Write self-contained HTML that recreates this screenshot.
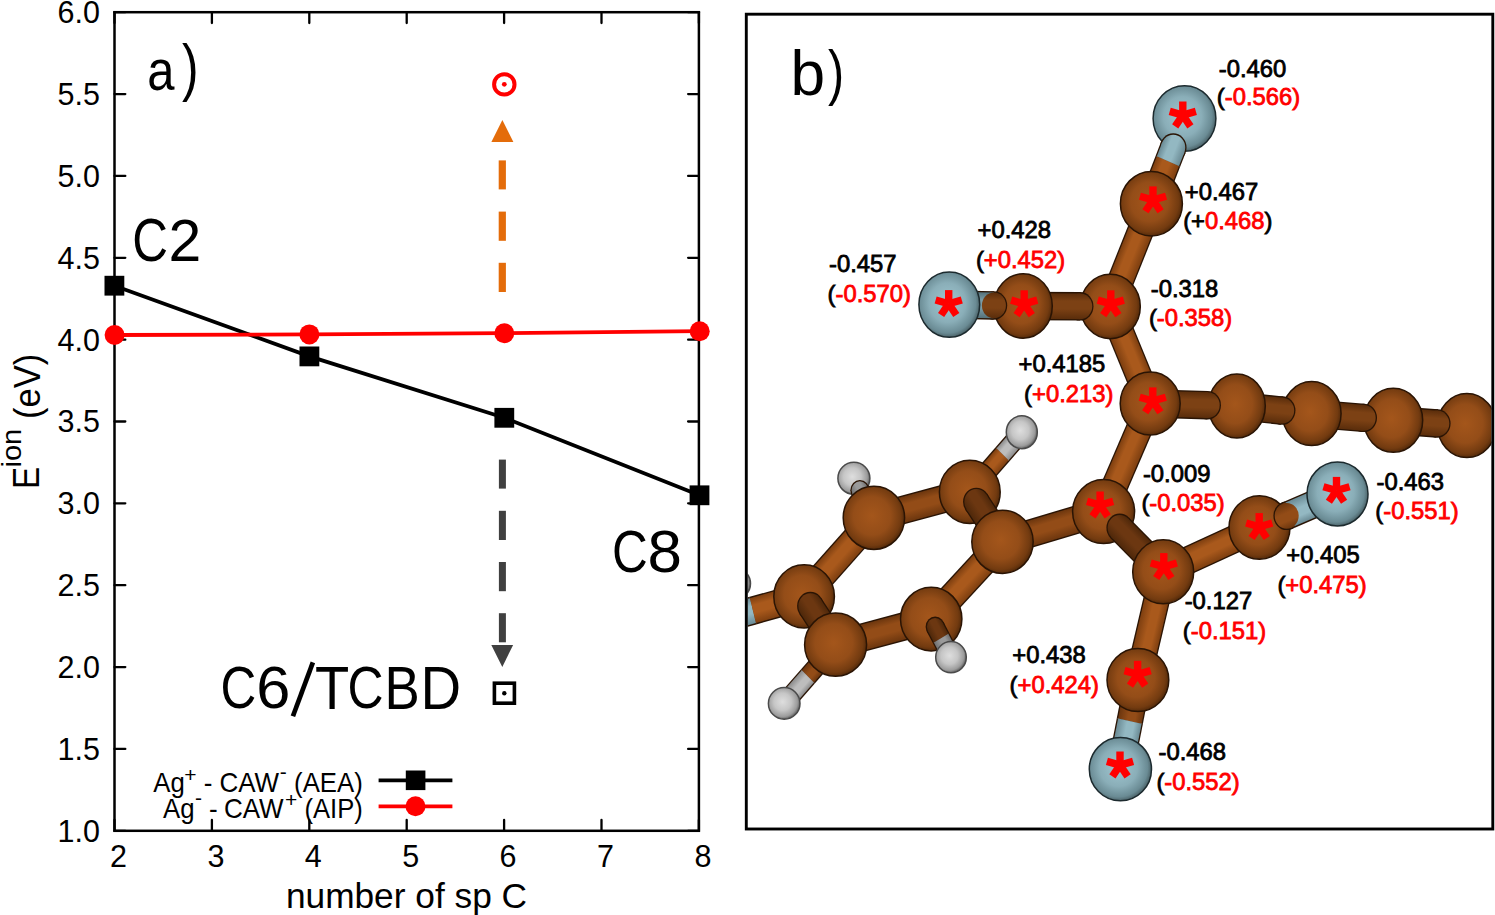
<!DOCTYPE html>
<html><head><meta charset="utf-8"><style>
html,body{margin:0;padding:0;background:#fff;width:1495px;height:915px;overflow:hidden}
svg{display:block}
text{font-family:"Liberation Sans",sans-serif}
</style></head><body>
<svg width="1495" height="915" viewBox="0 0 1495 915" font-family="Liberation Sans, sans-serif">
<defs>
<radialGradient id="gC" cx="0.47" cy="0.47" r="0.55"><stop offset="0" stop-color="#a4561b"/><stop offset="0.55" stop-color="#944d18"/><stop offset="0.85" stop-color="#733b10"/><stop offset="1" stop-color="#4c2608"/></radialGradient>
<radialGradient id="gN" cx="0.47" cy="0.47" r="0.55"><stop offset="0" stop-color="#a0c6d0"/><stop offset="0.55" stop-color="#8aaeb8"/><stop offset="0.85" stop-color="#6a8b94"/><stop offset="1" stop-color="#44595e"/></radialGradient>
<radialGradient id="gH" cx="0.45" cy="0.45" r="0.55"><stop offset="0" stop-color="#dedede"/><stop offset="0.5" stop-color="#c6c6c6"/><stop offset="0.85" stop-color="#9c9c9c"/><stop offset="1" stop-color="#666"/></radialGradient>
<linearGradient id="bg1" gradientUnits="userSpaceOnUse" x1="729.48" y1="564.37" x2="735.51" y2="587.60"><stop offset="0" stop-color="#6a8a94"/><stop offset="0.3" stop-color="#93b8c2"/><stop offset="0.6" stop-color="#93b8c2"/><stop offset="1" stop-color="#6a8a94"/></linearGradient><linearGradient id="bg2" gradientUnits="userSpaceOnUse" x1="775.53" y1="552.41" x2="781.56" y2="575.64"><stop offset="0" stop-color="#7e3f10"/><stop offset="0.3" stop-color="#a9591c"/><stop offset="0.6" stop-color="#a9591c"/><stop offset="1" stop-color="#7e3f10"/></linearGradient><linearGradient id="bg3" gradientUnits="userSpaceOnUse" x1="830.30" y1="512.39" x2="847.70" y2="528.92"><stop offset="0" stop-color="#7e3f10"/><stop offset="0.3" stop-color="#a9591c"/><stop offset="0.6" stop-color="#a9591c"/><stop offset="1" stop-color="#7e3f10"/></linearGradient><linearGradient id="bg4" gradientUnits="userSpaceOnUse" x1="918.91" y1="460.19" x2="924.79" y2="483.46"><stop offset="0" stop-color="#6c360e"/><stop offset="0.3" stop-color="#934c17"/><stop offset="0.6" stop-color="#934c17"/><stop offset="1" stop-color="#6c360e"/></linearGradient><linearGradient id="bg5" gradientUnits="userSpaceOnUse" x1="880.49" y1="578.92" x2="886.31" y2="602.20"><stop offset="0" stop-color="#6c360e"/><stop offset="0.3" stop-color="#934c17"/><stop offset="0.6" stop-color="#934c17"/><stop offset="1" stop-color="#6c360e"/></linearGradient><linearGradient id="bg6" gradientUnits="userSpaceOnUse" x1="958.31" y1="534.05" x2="975.39" y2="550.91"><stop offset="0" stop-color="#7e3f10"/><stop offset="0.3" stop-color="#a9591c"/><stop offset="0.6" stop-color="#a9591c"/><stop offset="1" stop-color="#7e3f10"/></linearGradient><linearGradient id="bg7" gradientUnits="userSpaceOnUse" x1="980.14" y1="436.52" x2="992.22" y2="447.77"><stop offset="0" stop-color="#7e3f10"/><stop offset="0.3" stop-color="#a9591c"/><stop offset="0.6" stop-color="#a9591c"/><stop offset="1" stop-color="#7e3f10"/></linearGradient><linearGradient id="bg8" gradientUnits="userSpaceOnUse" x1="1006.14" y1="408.62" x2="1018.22" y2="419.87"><stop offset="0" stop-color="#8c8c8c"/><stop offset="0.3" stop-color="#bdbdbd"/><stop offset="0.6" stop-color="#bdbdbd"/><stop offset="1" stop-color="#8c8c8c"/></linearGradient><linearGradient id="bg9" gradientUnits="userSpaceOnUse" x1="827.74" y1="622.98" x2="815.70" y2="611.69"><stop offset="0" stop-color="#6c360e"/><stop offset="0.3" stop-color="#934c17"/><stop offset="0.6" stop-color="#934c17"/><stop offset="1" stop-color="#6c360e"/></linearGradient><linearGradient id="bg10" gradientUnits="userSpaceOnUse" x1="802.04" y1="650.41" x2="790.00" y2="639.12"><stop offset="0" stop-color="#8c8c8c"/><stop offset="0.3" stop-color="#bdbdbd"/><stop offset="0.6" stop-color="#bdbdbd"/><stop offset="1" stop-color="#8c8c8c"/></linearGradient><linearGradient id="bg11" gradientUnits="userSpaceOnUse" x1="1049.82" y1="480.68" x2="1056.28" y2="503.80"><stop offset="0" stop-color="#6c360e"/><stop offset="0.3" stop-color="#934c17"/><stop offset="0.6" stop-color="#934c17"/><stop offset="1" stop-color="#6c360e"/></linearGradient><linearGradient id="bg12" gradientUnits="userSpaceOnUse" x1="1116.00" y1="422.59" x2="1137.80" y2="432.64"><stop offset="0" stop-color="#7e3f10"/><stop offset="0.3" stop-color="#a9591c"/><stop offset="0.6" stop-color="#a9591c"/><stop offset="1" stop-color="#7e3f10"/></linearGradient><linearGradient id="bg13" gradientUnits="userSpaceOnUse" x1="1141.23" y1="326.94" x2="1119.27" y2="336.61"><stop offset="0" stop-color="#7e3f10"/><stop offset="0.3" stop-color="#a9591c"/><stop offset="0.6" stop-color="#a9591c"/><stop offset="1" stop-color="#7e3f10"/></linearGradient><linearGradient id="bg14" gradientUnits="userSpaceOnUse" x1="1119.82" y1="233.69" x2="1141.88" y2="243.13"><stop offset="0" stop-color="#7e3f10"/><stop offset="0.3" stop-color="#a9591c"/><stop offset="0.6" stop-color="#a9591c"/><stop offset="1" stop-color="#7e3f10"/></linearGradient><linearGradient id="bg15" gradientUnits="userSpaceOnUse" x1="1206.61" y1="502.67" x2="1216.09" y2="524.72"><stop offset="0" stop-color="#7e3f10"/><stop offset="0.3" stop-color="#a9591c"/><stop offset="0.6" stop-color="#a9591c"/><stop offset="1" stop-color="#7e3f10"/></linearGradient><linearGradient id="bg16" gradientUnits="userSpaceOnUse" x1="1162.19" y1="587.87" x2="1138.91" y2="582.04"><stop offset="0" stop-color="#7e3f10"/><stop offset="0.3" stop-color="#a9591c"/><stop offset="0.6" stop-color="#a9591c"/><stop offset="1" stop-color="#7e3f10"/></linearGradient><linearGradient id="bg17" gradientUnits="userSpaceOnUse" x1="869.15" y1="457.85" x2="854.65" y2="465.71"><stop offset="0" stop-color="#707070"/><stop offset="0.3" stop-color="#9a9a9a"/><stop offset="0.6" stop-color="#9a9a9a"/><stop offset="1" stop-color="#707070"/></linearGradient><linearGradient id="bg18" gradientUnits="userSpaceOnUse" x1="876.15" y1="470.77" x2="861.65" y2="478.63"><stop offset="0" stop-color="#5a2d0b"/><stop offset="0.3" stop-color="#7c4114"/><stop offset="0.6" stop-color="#7c4114"/><stop offset="1" stop-color="#5a2d0b"/></linearGradient><linearGradient id="bg19" gradientUnits="userSpaceOnUse" x1="832.84" y1="577.60" x2="813.16" y2="591.33"><stop offset="0" stop-color="#4f280a"/><stop offset="0.3" stop-color="#6c3711"/><stop offset="0.6" stop-color="#6c3711"/><stop offset="1" stop-color="#4f280a"/></linearGradient><linearGradient id="bg20" gradientUnits="userSpaceOnUse" x1="945.34" y1="587.05" x2="930.92" y2="595.07"><stop offset="0" stop-color="#4f280a"/><stop offset="0.3" stop-color="#6c3711"/><stop offset="0.6" stop-color="#6c3711"/><stop offset="1" stop-color="#4f280a"/></linearGradient><linearGradient id="bg21" gradientUnits="userSpaceOnUse" x1="953.26" y1="601.29" x2="938.84" y2="609.31"><stop offset="0" stop-color="#707070"/><stop offset="0.3" stop-color="#9a9a9a"/><stop offset="0.6" stop-color="#9a9a9a"/><stop offset="1" stop-color="#707070"/></linearGradient><linearGradient id="bg22" gradientUnits="userSpaceOnUse" x1="999.25" y1="480.81" x2="979.59" y2="494.59"><stop offset="0" stop-color="#4f280a"/><stop offset="0.3" stop-color="#6c3711"/><stop offset="0.6" stop-color="#6c3711"/><stop offset="1" stop-color="#4f280a"/></linearGradient><linearGradient id="bg23" gradientUnits="userSpaceOnUse" x1="1148.59" y1="165.86" x2="1170.76" y2="175.07"><stop offset="0" stop-color="#7e3f10"/><stop offset="0.3" stop-color="#a9591c"/><stop offset="0.6" stop-color="#a9591c"/><stop offset="1" stop-color="#7e3f10"/></linearGradient><linearGradient id="bg24" gradientUnits="userSpaceOnUse" x1="1159.51" y1="139.59" x2="1181.67" y2="148.81"><stop offset="0" stop-color="#6a8a94"/><stop offset="0.3" stop-color="#93b8c2"/><stop offset="0.6" stop-color="#93b8c2"/><stop offset="1" stop-color="#6a8a94"/></linearGradient><linearGradient id="bg25" gradientUnits="userSpaceOnUse" x1="1051.71" y1="274.13" x2="1051.59" y2="298.13"><stop offset="0" stop-color="#5a2d0b"/><stop offset="0.3" stop-color="#7c4114"/><stop offset="0.6" stop-color="#7c4114"/><stop offset="1" stop-color="#5a2d0b"/></linearGradient><linearGradient id="bg26" gradientUnits="userSpaceOnUse" x1="971.65" y1="273.07" x2="971.23" y2="297.06"><stop offset="0" stop-color="#56727a"/><stop offset="0.3" stop-color="#7a9ca6"/><stop offset="0.6" stop-color="#7a9ca6"/><stop offset="1" stop-color="#56727a"/></linearGradient><linearGradient id="bg27" gradientUnits="userSpaceOnUse" x1="993.96" y1="273.46" x2="993.53" y2="297.46"><stop offset="0" stop-color="#5a2d0b"/><stop offset="0.3" stop-color="#7c4114"/><stop offset="0.6" stop-color="#7c4114"/><stop offset="1" stop-color="#5a2d0b"/></linearGradient><linearGradient id="bg28" gradientUnits="userSpaceOnUse" x1="1416.09" y1="382.31" x2="1414.48" y2="406.26"><stop offset="0" stop-color="#5a2d0b"/><stop offset="0.3" stop-color="#7c4114"/><stop offset="0.6" stop-color="#7c4114"/><stop offset="1" stop-color="#5a2d0b"/></linearGradient><linearGradient id="bg29" gradientUnits="userSpaceOnUse" x1="1338.62" y1="376.57" x2="1336.78" y2="400.50"><stop offset="0" stop-color="#5a2d0b"/><stop offset="0.3" stop-color="#7c4114"/><stop offset="0.6" stop-color="#7c4114"/><stop offset="1" stop-color="#5a2d0b"/></linearGradient><linearGradient id="bg30" gradientUnits="userSpaceOnUse" x1="1260.66" y1="369.64" x2="1258.39" y2="393.53"><stop offset="0" stop-color="#5a2d0b"/><stop offset="0.3" stop-color="#7c4114"/><stop offset="0.6" stop-color="#7c4114"/><stop offset="1" stop-color="#5a2d0b"/></linearGradient><linearGradient id="bg31" gradientUnits="userSpaceOnUse" x1="1179.25" y1="365.88" x2="1178.61" y2="389.87"><stop offset="0" stop-color="#5a2d0b"/><stop offset="0.3" stop-color="#7c4114"/><stop offset="0.6" stop-color="#7c4114"/><stop offset="1" stop-color="#5a2d0b"/></linearGradient><linearGradient id="bg32" gradientUnits="userSpaceOnUse" x1="1149.68" y1="505.13" x2="1133.21" y2="522.58"><stop offset="0" stop-color="#4f280a"/><stop offset="0.3" stop-color="#6c3711"/><stop offset="0.6" stop-color="#6c3711"/><stop offset="1" stop-color="#4f280a"/></linearGradient><linearGradient id="bg33" gradientUnits="userSpaceOnUse" x1="1318.18" y1="482.37" x2="1309.24" y2="460.09"><stop offset="0" stop-color="#6a8a94"/><stop offset="0.3" stop-color="#93b8c2"/><stop offset="0.6" stop-color="#93b8c2"/><stop offset="1" stop-color="#6a8a94"/></linearGradient><linearGradient id="bg34" gradientUnits="userSpaceOnUse" x1="1292.78" y1="492.56" x2="1283.84" y2="470.29"><stop offset="0" stop-color="#6c360e"/><stop offset="0.3" stop-color="#934c17"/><stop offset="0.6" stop-color="#934c17"/><stop offset="1" stop-color="#6c360e"/></linearGradient><linearGradient id="bg35" gradientUnits="userSpaceOnUse" x1="1145.62" y1="657.15" x2="1122.13" y2="652.22"><stop offset="0" stop-color="#6c360e"/><stop offset="0.3" stop-color="#934c17"/><stop offset="0.6" stop-color="#934c17"/><stop offset="1" stop-color="#6c360e"/></linearGradient><linearGradient id="bg36" gradientUnits="userSpaceOnUse" x1="1136.87" y1="698.84" x2="1113.38" y2="693.90"><stop offset="0" stop-color="#6a8a94"/><stop offset="0.3" stop-color="#93b8c2"/><stop offset="0.6" stop-color="#93b8c2"/><stop offset="1" stop-color="#6a8a94"/></linearGradient><clipPath id="box"><rect x="747.7" y="15.6" width="743.7" height="812"/></clipPath>
</defs>
<rect width="1495" height="915" fill="#fff"/>
<g><rect x="114.5" y="12.2" width="584.4" height="818.5999999999999" fill="none" stroke="#000" stroke-width="2.5"/><line x1="114.5" y1="830.80" x2="125.3" y2="830.80" stroke="#000" stroke-width="2.3" stroke-linecap="round"/><line x1="688.1" y1="830.80" x2="698.9" y2="830.80" stroke="#000" stroke-width="2.3" stroke-linecap="round"/><text x="100" y="841.70" text-anchor="end" font-size="30.5">1.0</text><line x1="114.5" y1="748.94" x2="125.3" y2="748.94" stroke="#000" stroke-width="2.3" stroke-linecap="round"/><line x1="688.1" y1="748.94" x2="698.9" y2="748.94" stroke="#000" stroke-width="2.3" stroke-linecap="round"/><text x="100" y="759.84" text-anchor="end" font-size="30.5">1.5</text><line x1="114.5" y1="667.08" x2="125.3" y2="667.08" stroke="#000" stroke-width="2.3" stroke-linecap="round"/><line x1="688.1" y1="667.08" x2="698.9" y2="667.08" stroke="#000" stroke-width="2.3" stroke-linecap="round"/><text x="100" y="677.98" text-anchor="end" font-size="30.5">2.0</text><line x1="114.5" y1="585.22" x2="125.3" y2="585.22" stroke="#000" stroke-width="2.3" stroke-linecap="round"/><line x1="688.1" y1="585.22" x2="698.9" y2="585.22" stroke="#000" stroke-width="2.3" stroke-linecap="round"/><text x="100" y="596.12" text-anchor="end" font-size="30.5">2.5</text><line x1="114.5" y1="503.36" x2="125.3" y2="503.36" stroke="#000" stroke-width="2.3" stroke-linecap="round"/><line x1="688.1" y1="503.36" x2="698.9" y2="503.36" stroke="#000" stroke-width="2.3" stroke-linecap="round"/><text x="100" y="514.26" text-anchor="end" font-size="30.5">3.0</text><line x1="114.5" y1="421.50" x2="125.3" y2="421.50" stroke="#000" stroke-width="2.3" stroke-linecap="round"/><line x1="688.1" y1="421.50" x2="698.9" y2="421.50" stroke="#000" stroke-width="2.3" stroke-linecap="round"/><text x="100" y="432.40" text-anchor="end" font-size="30.5">3.5</text><line x1="114.5" y1="339.64" x2="125.3" y2="339.64" stroke="#000" stroke-width="2.3" stroke-linecap="round"/><line x1="688.1" y1="339.64" x2="698.9" y2="339.64" stroke="#000" stroke-width="2.3" stroke-linecap="round"/><text x="100" y="350.54" text-anchor="end" font-size="30.5">4.0</text><line x1="114.5" y1="257.78" x2="125.3" y2="257.78" stroke="#000" stroke-width="2.3" stroke-linecap="round"/><line x1="688.1" y1="257.78" x2="698.9" y2="257.78" stroke="#000" stroke-width="2.3" stroke-linecap="round"/><text x="100" y="268.68" text-anchor="end" font-size="30.5">4.5</text><line x1="114.5" y1="175.92" x2="125.3" y2="175.92" stroke="#000" stroke-width="2.3" stroke-linecap="round"/><line x1="688.1" y1="175.92" x2="698.9" y2="175.92" stroke="#000" stroke-width="2.3" stroke-linecap="round"/><text x="100" y="186.82" text-anchor="end" font-size="30.5">5.0</text><line x1="114.5" y1="94.06" x2="125.3" y2="94.06" stroke="#000" stroke-width="2.3" stroke-linecap="round"/><line x1="688.1" y1="94.06" x2="698.9" y2="94.06" stroke="#000" stroke-width="2.3" stroke-linecap="round"/><text x="100" y="104.96" text-anchor="end" font-size="30.5">5.5</text><line x1="114.5" y1="12.20" x2="125.3" y2="12.20" stroke="#000" stroke-width="2.3" stroke-linecap="round"/><line x1="688.1" y1="12.20" x2="698.9" y2="12.20" stroke="#000" stroke-width="2.3" stroke-linecap="round"/><text x="100" y="23.10" text-anchor="end" font-size="30.5">6.0</text><line x1="114.50" y1="830.8" x2="114.50" y2="820.0" stroke="#000" stroke-width="2.3" stroke-linecap="round"/><line x1="114.50" y1="12.2" x2="114.50" y2="23.0" stroke="#000" stroke-width="2.3" stroke-linecap="round"/><text x="118.50" y="867.4" text-anchor="middle" font-size="30.5">2</text><line x1="211.90" y1="830.8" x2="211.90" y2="820.0" stroke="#000" stroke-width="2.3" stroke-linecap="round"/><line x1="211.90" y1="12.2" x2="211.90" y2="23.0" stroke="#000" stroke-width="2.3" stroke-linecap="round"/><text x="215.90" y="867.4" text-anchor="middle" font-size="30.5">3</text><line x1="309.30" y1="830.8" x2="309.30" y2="820.0" stroke="#000" stroke-width="2.3" stroke-linecap="round"/><line x1="309.30" y1="12.2" x2="309.30" y2="23.0" stroke="#000" stroke-width="2.3" stroke-linecap="round"/><text x="313.30" y="867.4" text-anchor="middle" font-size="30.5">4</text><line x1="406.70" y1="830.8" x2="406.70" y2="820.0" stroke="#000" stroke-width="2.3" stroke-linecap="round"/><line x1="406.70" y1="12.2" x2="406.70" y2="23.0" stroke="#000" stroke-width="2.3" stroke-linecap="round"/><text x="410.70" y="867.4" text-anchor="middle" font-size="30.5">5</text><line x1="504.10" y1="830.8" x2="504.10" y2="820.0" stroke="#000" stroke-width="2.3" stroke-linecap="round"/><line x1="504.10" y1="12.2" x2="504.10" y2="23.0" stroke="#000" stroke-width="2.3" stroke-linecap="round"/><text x="508.10" y="867.4" text-anchor="middle" font-size="30.5">6</text><line x1="601.50" y1="830.8" x2="601.50" y2="820.0" stroke="#000" stroke-width="2.3" stroke-linecap="round"/><line x1="601.50" y1="12.2" x2="601.50" y2="23.0" stroke="#000" stroke-width="2.3" stroke-linecap="round"/><text x="605.50" y="867.4" text-anchor="middle" font-size="30.5">7</text><line x1="698.90" y1="830.8" x2="698.90" y2="820.0" stroke="#000" stroke-width="2.3" stroke-linecap="round"/><line x1="698.90" y1="12.2" x2="698.90" y2="23.0" stroke="#000" stroke-width="2.3" stroke-linecap="round"/><text x="702.90" y="867.4" text-anchor="middle" font-size="30.5">8</text><polyline points="114.4,285.7 309.4,356.4 504.3,417.8 699.5,495.3" fill="none" stroke="#000" stroke-width="3.8"/><polyline points="114.6,335.0 309.4,334.4 504.3,333.2 699.7,331.2" fill="none" stroke="#f00" stroke-width="3.8"/><circle cx="114.6" cy="335.0" r="10" fill="#f00"/><circle cx="309.4" cy="334.4" r="10" fill="#f00"/><circle cx="504.3" cy="333.2" r="10" fill="#f00"/><circle cx="699.7" cy="331.2" r="10" fill="#f00"/><rect x="104.5" y="275.8" width="19.8" height="19.8" fill="#000"/><rect x="299.5" y="346.5" width="19.8" height="19.8" fill="#000"/><rect x="494.40000000000003" y="407.90000000000003" width="19.8" height="19.8" fill="#000"/><rect x="689.6" y="485.40000000000003" width="19.8" height="19.8" fill="#000"/><rect x="498.7" y="160.4" width="7.2" height="29.0" fill="#e46c0a"/><rect x="498.7" y="211.6" width="7.2" height="29.200000000000017" fill="#e46c0a"/><rect x="498.7" y="262.8" width="7.2" height="29.19999999999999" fill="#e46c0a"/><polygon points="502.4,120 491.4,141.9 513.4,141.9" fill="#e46c0a"/><circle cx="504.3" cy="84.4" r="10.2" fill="none" stroke="#f00" stroke-width="4"/><circle cx="504.3" cy="84.3" r="2.4" fill="#f00"/><rect x="498.9" y="459.6" width="7" height="29.0" fill="#404040"/><rect x="498.9" y="510.8" width="7" height="29.19999999999999" fill="#404040"/><rect x="498.9" y="562.0" width="7" height="29.200000000000045" fill="#404040"/><rect x="498.9" y="613.2" width="7" height="29.09999999999991" fill="#404040"/><polygon points="491.3,645 513.1,645 502.3,666.9" fill="#404040"/><rect x="494.4" y="683.2" width="20" height="20" fill="none" stroke="#000" stroke-width="3.6"/><circle cx="504.3" cy="693.3" r="2.2" fill="#000"/><text transform="translate(147.30,89.90) scale(0.860,1)" font-size="57" >a</text><text transform="translate(182.00,88.60) scale(0.800,1)" font-size="62.3" >)</text><text transform="translate(132.37,260.80) scale(0.821,1)" font-size="60.28" >C</text><text transform="translate(168.45,261.00) scale(0.982,1)" font-size="60.0" >2</text><text transform="translate(612.02,572.20) scale(0.832,1)" font-size="59.57" >C</text><text transform="translate(647.42,572.20) scale(1.039,1)" font-size="59.57" >8</text><text transform="translate(220.42,708.30) scale(0.830,1)" font-size="59.71" >C</text><text transform="translate(256.24,708.30) scale(1.027,1)" font-size="59.71" >6</text><line x1="292.9" y1="716.2" x2="312.9" y2="662.4" stroke="#000" stroke-width="4.7"/><text transform="translate(314.89,708.90) scale(0.921,1)" font-size="60.87" >T</text><text transform="translate(347.41,708.30) scale(0.836,1)" font-size="59.71" >C</text><text transform="translate(384.40,708.90) scale(0.868,1)" font-size="60.87" >B</text><text transform="translate(420.41,708.90) scale(0.924,1)" font-size="60.87" >D</text><text transform="translate(285.90,907.90) scale(0.994,1)" font-size="35.5" >number of sp C</text><text transform="translate(38.90,489.10) rotate(-90) scale(0.891,1)" font-size="37.4">E</text><text transform="translate(21.30,467.50) rotate(-90) scale(1.055,1)" font-size="27.5">ion</text><text transform="translate(39.60,419.00) rotate(-90) scale(0.952,1)" font-size="36.3">(eV)</text><text transform="translate(153.30,792.00) scale(0.920,1)" font-size="28" >Ag</text><text transform="translate(184.30,781.60) scale(1.000,1)" font-size="21" >+</text><text transform="translate(203.80,792.00) scale(0.930,1)" font-size="28" >-</text><text transform="translate(219.40,792.00) scale(0.928,1)" font-size="28" >CAW</text><text transform="translate(279.70,778.70) scale(1.000,1)" font-size="21" >-</text><text transform="translate(294.10,792.00) scale(0.920,1)" font-size="28" >(AEA)</text><text transform="translate(163.10,817.60) scale(0.920,1)" font-size="28" >Ag</text><text transform="translate(195.10,804.60) scale(1.000,1)" font-size="21" >-</text><text transform="translate(208.90,818.00) scale(0.930,1)" font-size="28" >-</text><text transform="translate(223.90,817.60) scale(0.930,1)" font-size="28" >CAW</text><text transform="translate(284.90,807.30) scale(1.000,1)" font-size="21" >+</text><text transform="translate(304.50,817.60) scale(0.914,1)" font-size="28" >(AIP)</text><line x1="378.6" y1="780.3" x2="452.4" y2="780.3" stroke="#000" stroke-width="3.8"/><rect x="405.8" y="770.5" width="19.6" height="19.6" fill="#000"/><line x1="378.6" y1="806.3" x2="452.4" y2="806.3" stroke="#f00" stroke-width="3.8"/><circle cx="415.5" cy="806.3" r="10" fill="#f00"/></g>
<g clip-path="url(#box)"><g transform="scale(1,1.07)"><line x1="712.00" y1="581.31" x2="752.98" y2="570.66" stroke="#2a1404" stroke-width="26.6"/><line x1="752.98" y1="570.66" x2="804.10" y2="557.38" stroke="#2a1404" stroke-width="26.6"/><line x1="712.00" y1="581.31" x2="752.98" y2="570.66" stroke="url(#bg1)" stroke-width="24.0"/><line x1="752.98" y1="570.66" x2="804.10" y2="557.38" stroke="url(#bg2)" stroke-width="24.0"/></g><g transform="scale(1,1.07)"><line x1="804.10" y1="557.38" x2="873.90" y2="483.93" stroke="#2a1404" stroke-width="26.6"/><line x1="804.10" y1="557.38" x2="873.90" y2="483.93" stroke="url(#bg3)" stroke-width="24.0"/></g><g transform="scale(1,1.07)"><line x1="873.90" y1="483.93" x2="969.80" y2="459.72" stroke="#2a1404" stroke-width="26.6"/><line x1="873.90" y1="483.93" x2="969.80" y2="459.72" stroke="url(#bg4)" stroke-width="24.0"/></g><g transform="scale(1,1.07)"><line x1="835.60" y1="602.52" x2="931.20" y2="578.60" stroke="#2a1404" stroke-width="26.6"/><line x1="835.60" y1="602.52" x2="931.20" y2="578.60" stroke="url(#bg5)" stroke-width="24.0"/></g><g transform="scale(1,1.07)"><line x1="931.20" y1="578.60" x2="1002.50" y2="506.36" stroke="#2a1404" stroke-width="26.6"/><line x1="931.20" y1="578.60" x2="1002.50" y2="506.36" stroke="url(#bg6)" stroke-width="24.0"/></g><g transform="scale(1,1.07)"><line x1="969.80" y1="459.72" x2="1002.56" y2="424.57" stroke="#2a1404" stroke-width="19.1"/><line x1="1002.56" y1="424.57" x2="1021.80" y2="403.93" stroke="#2a1404" stroke-width="19.1"/><line x1="969.80" y1="459.72" x2="1002.56" y2="424.57" stroke="url(#bg7)" stroke-width="16.5"/><line x1="1002.56" y1="424.57" x2="1021.80" y2="403.93" stroke="url(#bg8)" stroke-width="16.5"/></g><g transform="scale(1,1.07)"><line x1="835.60" y1="602.52" x2="807.84" y2="632.15" stroke="#2a1404" stroke-width="19.1"/><line x1="807.84" y1="632.15" x2="784.20" y2="657.38" stroke="#2a1404" stroke-width="19.1"/><line x1="835.60" y1="602.52" x2="807.84" y2="632.15" stroke="url(#bg9)" stroke-width="16.5"/><line x1="807.84" y1="632.15" x2="784.20" y2="657.38" stroke="url(#bg10)" stroke-width="16.5"/></g><g transform="scale(1,1.07)"><line x1="1002.50" y1="506.36" x2="1103.60" y2="478.13" stroke="#2a1404" stroke-width="26.6"/><line x1="1002.50" y1="506.36" x2="1103.60" y2="478.13" stroke="url(#bg11)" stroke-width="24.0"/></g><g transform="scale(1,1.07)"><line x1="1103.60" y1="478.13" x2="1150.20" y2="377.10" stroke="#2a1404" stroke-width="26.6"/><line x1="1103.60" y1="478.13" x2="1150.20" y2="377.10" stroke="url(#bg12)" stroke-width="24.0"/></g><g transform="scale(1,1.07)"><line x1="1110.30" y1="286.45" x2="1150.20" y2="377.10" stroke="#2a1404" stroke-width="26.6"/><line x1="1110.30" y1="286.45" x2="1150.20" y2="377.10" stroke="url(#bg13)" stroke-width="24.0"/></g><g transform="scale(1,1.07)"><line x1="1110.30" y1="286.45" x2="1151.40" y2="190.37" stroke="#2a1404" stroke-width="26.6"/><line x1="1110.30" y1="286.45" x2="1151.40" y2="190.37" stroke="url(#bg14)" stroke-width="24.0"/></g><g transform="scale(1,1.07)"><line x1="1163.20" y1="534.39" x2="1259.50" y2="492.99" stroke="#2a1404" stroke-width="26.6"/><line x1="1163.20" y1="534.39" x2="1259.50" y2="492.99" stroke="url(#bg15)" stroke-width="24.0"/></g><g transform="scale(1,1.07)"><line x1="1163.20" y1="534.39" x2="1137.90" y2="635.51" stroke="#2a1404" stroke-width="26.6"/><line x1="1163.20" y1="534.39" x2="1137.90" y2="635.51" stroke="url(#bg16)" stroke-width="24.0"/></g><ellipse cx="734.5" cy="583.6" rx="16.0" ry="16.0" fill="url(#gH)" stroke="#4a4a4a" stroke-width="1.5"/><ellipse cx="712.0" cy="622.0" rx="30.0" ry="32.0" fill="url(#gN)" stroke="#1c2a2e" stroke-width="1.5"/><ellipse cx="853.9" cy="478.3" rx="16.0" ry="16.0" fill="url(#gH)" stroke="#4a4a4a" stroke-width="1.5"/><g transform="scale(1,1.07)"><line x1="859.90" y1="458.08" x2="863.90" y2="465.47" stroke="#2a1404" stroke-width="19.1"/><circle cx="859.90" cy="458.08" r="9.55" fill="#2a1404"/><line x1="863.90" y1="465.47" x2="873.90" y2="483.93" stroke="#2a1404" stroke-width="19.1"/><line x1="859.90" y1="458.08" x2="863.90" y2="465.47" stroke="url(#bg17)" stroke-width="16.5"/><circle cx="859.90" cy="458.08" r="8.25" fill="url(#bg17)"/><line x1="863.90" y1="465.47" x2="873.90" y2="483.93" stroke="url(#bg18)" stroke-width="16.5"/></g><ellipse cx="873.9" cy="517.8" rx="30.7" ry="31.6" fill="url(#gC)" stroke="#2a1404" stroke-width="1.5"/><ellipse cx="804.1" cy="596.4" rx="30.3" ry="31.6" fill="url(#gC)" stroke="#2a1404" stroke-width="1.5"/><g transform="scale(1,1.07)"><line x1="810.40" y1="566.41" x2="835.60" y2="602.52" stroke="#2a1404" stroke-width="26.6"/><circle cx="810.40" cy="566.41" r="13.30" fill="#2a1404"/><line x1="810.40" y1="566.41" x2="835.60" y2="602.52" stroke="url(#bg19)" stroke-width="24.0"/><circle cx="810.40" cy="566.41" r="12.00" fill="url(#bg19)"/></g><ellipse cx="835.6" cy="644.7" rx="31.0" ry="31.6" fill="url(#gC)" stroke="#2a1404" stroke-width="1.5"/><ellipse cx="784.2" cy="703.4" rx="15.8" ry="15.8" fill="url(#gH)" stroke="#4a4a4a" stroke-width="1.5"/><ellipse cx="931.2" cy="619.1" rx="30.7" ry="31.8" fill="url(#gC)" stroke="#2a1404" stroke-width="1.5"/><g transform="scale(1,1.07)"><line x1="935.16" y1="585.72" x2="941.10" y2="596.40" stroke="#2a1404" stroke-width="19.1"/><circle cx="935.16" cy="585.72" r="9.55" fill="#2a1404"/><line x1="941.10" y1="596.40" x2="951.00" y2="614.21" stroke="#2a1404" stroke-width="19.1"/><line x1="935.16" y1="585.72" x2="941.10" y2="596.40" stroke="url(#bg20)" stroke-width="16.5"/><circle cx="935.16" cy="585.72" r="8.25" fill="url(#bg20)"/><line x1="941.10" y1="596.40" x2="951.00" y2="614.21" stroke="url(#bg21)" stroke-width="16.5"/></g><ellipse cx="951.0" cy="657.2" rx="15.3" ry="15.6" fill="url(#gH)" stroke="#4a4a4a" stroke-width="1.5"/><ellipse cx="1021.8" cy="432.2" rx="15.5" ry="16.5" fill="url(#gH)" stroke="#4a4a4a" stroke-width="1.5"/><ellipse cx="969.8" cy="491.9" rx="30.4" ry="31.7" fill="url(#gC)" stroke="#2a1404" stroke-width="1.5"/><g transform="scale(1,1.07)"><line x1="976.34" y1="469.05" x2="1002.50" y2="506.36" stroke="#2a1404" stroke-width="26.6"/><circle cx="976.34" cy="469.05" r="13.30" fill="#2a1404"/><line x1="976.34" y1="469.05" x2="1002.50" y2="506.36" stroke="url(#bg22)" stroke-width="24.0"/><circle cx="976.34" cy="469.05" r="12.00" fill="url(#bg22)"/></g><ellipse cx="1002.5" cy="541.8" rx="30.7" ry="31.6" fill="url(#gC)" stroke="#2a1404" stroke-width="1.5"/><ellipse cx="1184.5" cy="118.5" rx="31.4" ry="32.8" fill="url(#gN)" stroke="#1c2a2e" stroke-width="1.5"/><g transform="scale(1,1.07)"><line x1="1151.40" y1="190.37" x2="1167.95" y2="150.56" stroke="#2a1404" stroke-width="26.6"/><line x1="1167.95" y1="150.56" x2="1173.24" y2="137.84" stroke="#2a1404" stroke-width="26.6"/><circle cx="1173.24" cy="137.84" r="13.30" fill="#2a1404"/><line x1="1151.40" y1="190.37" x2="1167.95" y2="150.56" stroke="url(#bg23)" stroke-width="24.0"/><line x1="1167.95" y1="150.56" x2="1173.24" y2="137.84" stroke="url(#bg24)" stroke-width="24.0"/><circle cx="1173.24" cy="137.84" r="12.00" fill="url(#bg24)"/></g><ellipse cx="1110.3" cy="306.5" rx="30.0" ry="32.2" fill="url(#gC)" stroke="#2a1404" stroke-width="1.5"/><g transform="scale(1,1.07)"><line x1="1023.10" y1="285.98" x2="1080.20" y2="286.29" stroke="#2a1404" stroke-width="26.6"/><circle cx="1080.20" cy="286.29" r="13.30" fill="#2a1404"/><line x1="1023.10" y1="285.98" x2="1080.20" y2="286.29" stroke="url(#bg25)" stroke-width="24.0"/><circle cx="1080.20" cy="286.29" r="12.00" fill="url(#bg25)"/></g><ellipse cx="1023.1" cy="306.0" rx="29.2" ry="32.2" fill="url(#gC)" stroke="#2a1404" stroke-width="1.5"/><g transform="scale(1,1.07)"><line x1="949.30" y1="284.67" x2="993.58" y2="285.46" stroke="#2a1404" stroke-width="26.6"/><line x1="993.58" y1="285.46" x2="993.91" y2="285.46" stroke="#2a1404" stroke-width="26.6"/><circle cx="993.91" cy="285.46" r="13.30" fill="#2a1404"/><line x1="949.30" y1="284.67" x2="993.58" y2="285.46" stroke="url(#bg26)" stroke-width="24.0"/><line x1="993.58" y1="285.46" x2="993.91" y2="285.46" stroke="url(#bg27)" stroke-width="24.0"/><circle cx="993.91" cy="285.46" r="12.00" fill="url(#bg27)"/></g><ellipse cx="949.3" cy="304.6" rx="30.4" ry="32.6" fill="url(#gN)" stroke="#1c2a2e" stroke-width="1.5"/><ellipse cx="1151.4" cy="203.7" rx="31.0" ry="32.3" fill="url(#gC)" stroke="#2a1404" stroke-width="1.5"/><ellipse cx="1466.9" cy="425.6" rx="29.4" ry="32.0" fill="url(#gC)" stroke="#2a1404" stroke-width="1.5"/><g transform="scale(1,1.07)"><line x1="1393.30" y1="392.80" x2="1437.28" y2="395.76" stroke="#2a1404" stroke-width="26.6"/><circle cx="1437.28" cy="395.76" r="13.30" fill="#2a1404"/><line x1="1393.30" y1="392.80" x2="1437.28" y2="395.76" stroke="url(#bg28)" stroke-width="24.0"/><circle cx="1437.28" cy="395.76" r="12.00" fill="url(#bg28)"/></g><ellipse cx="1393.3" cy="420.3" rx="29.4" ry="32.0" fill="url(#gC)" stroke="#2a1404" stroke-width="1.5"/><g transform="scale(1,1.07)"><line x1="1311.70" y1="386.54" x2="1363.70" y2="390.53" stroke="#2a1404" stroke-width="26.6"/><circle cx="1363.70" cy="390.53" r="13.30" fill="#2a1404"/><line x1="1311.70" y1="386.54" x2="1363.70" y2="390.53" stroke="url(#bg29)" stroke-width="24.0"/><circle cx="1363.70" cy="390.53" r="12.00" fill="url(#bg29)"/></g><ellipse cx="1311.7" cy="413.6" rx="29.4" ry="32.0" fill="url(#gC)" stroke="#2a1404" stroke-width="1.5"/><g transform="scale(1,1.07)"><line x1="1236.90" y1="379.44" x2="1282.15" y2="383.74" stroke="#2a1404" stroke-width="26.6"/><circle cx="1282.15" cy="383.74" r="13.30" fill="#2a1404"/><line x1="1236.90" y1="379.44" x2="1282.15" y2="383.74" stroke="url(#bg30)" stroke-width="24.0"/><circle cx="1282.15" cy="383.74" r="12.00" fill="url(#bg30)"/></g><ellipse cx="1236.9" cy="406.0" rx="28.4" ry="32.1" fill="url(#gC)" stroke="#2a1404" stroke-width="1.5"/><g transform="scale(1,1.07)"><line x1="1150.20" y1="377.10" x2="1207.66" y2="378.65" stroke="#2a1404" stroke-width="26.6"/><circle cx="1207.66" cy="378.65" r="13.30" fill="#2a1404"/><line x1="1150.20" y1="377.10" x2="1207.66" y2="378.65" stroke="url(#bg31)" stroke-width="24.0"/><circle cx="1207.66" cy="378.65" r="12.00" fill="url(#bg31)"/></g><ellipse cx="1150.2" cy="403.5" rx="30.0" ry="31.6" fill="url(#gC)" stroke="#2a1404" stroke-width="1.5"/><ellipse cx="1103.6" cy="511.6" rx="31.0" ry="32.0" fill="url(#gC)" stroke="#2a1404" stroke-width="1.5"/><g transform="scale(1,1.07)"><line x1="1119.69" y1="493.32" x2="1163.20" y2="534.39" stroke="#2a1404" stroke-width="26.6"/><circle cx="1119.69" cy="493.32" r="13.30" fill="#2a1404"/><line x1="1119.69" y1="493.32" x2="1163.20" y2="534.39" stroke="url(#bg32)" stroke-width="24.0"/><circle cx="1119.69" cy="493.32" r="12.00" fill="url(#bg32)"/></g><ellipse cx="1163.2" cy="571.8" rx="30.5" ry="32.0" fill="url(#gC)" stroke="#2a1404" stroke-width="1.5"/><ellipse cx="1259.5" cy="527.5" rx="30.5" ry="31.7" fill="url(#gC)" stroke="#2a1404" stroke-width="1.5"/><g transform="scale(1,1.07)"><line x1="1337.50" y1="461.68" x2="1289.92" y2="480.78" stroke="#2a1404" stroke-width="26.6"/><line x1="1289.92" y1="480.78" x2="1286.70" y2="482.07" stroke="#2a1404" stroke-width="26.6"/><circle cx="1286.70" cy="482.07" r="13.30" fill="#2a1404"/><line x1="1337.50" y1="461.68" x2="1289.92" y2="480.78" stroke="url(#bg33)" stroke-width="24.0"/><line x1="1289.92" y1="480.78" x2="1286.70" y2="482.07" stroke="url(#bg34)" stroke-width="24.0"/><circle cx="1286.70" cy="482.07" r="12.00" fill="url(#bg34)"/></g><ellipse cx="1337.5" cy="494.0" rx="30.5" ry="32.0" fill="url(#gN)" stroke="#1c2a2e" stroke-width="1.5"/><g transform="scale(1,1.07)"><line x1="1137.90" y1="635.51" x2="1129.85" y2="673.86" stroke="#2a1404" stroke-width="26.6"/><line x1="1129.85" y1="673.86" x2="1120.40" y2="718.88" stroke="#2a1404" stroke-width="26.6"/><line x1="1137.90" y1="635.51" x2="1129.85" y2="673.86" stroke="url(#bg35)" stroke-width="24.0"/><line x1="1129.85" y1="673.86" x2="1120.40" y2="718.88" stroke="url(#bg36)" stroke-width="24.0"/></g><ellipse cx="1120.4" cy="769.2" rx="31.1" ry="31.6" fill="url(#gN)" stroke="#1c2a2e" stroke-width="1.5"/><ellipse cx="1137.9" cy="680.0" rx="30.9" ry="31.6" fill="url(#gC)" stroke="#2a1404" stroke-width="1.5"/><g fill="#f00"><rect x="0" y="-3.7" width="13.6" height="7.4" transform="translate(1182.8,115.1) rotate(-90)"/><rect x="0" y="-3.7" width="13.6" height="7.4" transform="translate(1182.8,115.1) rotate(-16)"/><rect x="0" y="-3.7" width="13.6" height="7.4" transform="translate(1182.8,115.1) rotate(56)"/><rect x="0" y="-3.7" width="13.6" height="7.4" transform="translate(1182.8,115.1) rotate(124)"/><rect x="0" y="-3.7" width="13.6" height="7.4" transform="translate(1182.8,115.1) rotate(196)"/></g><g fill="#f00"><rect x="0" y="-3.7" width="13.6" height="7.4" transform="translate(1110.8,303.9) rotate(-90)"/><rect x="0" y="-3.7" width="13.6" height="7.4" transform="translate(1110.8,303.9) rotate(-16)"/><rect x="0" y="-3.7" width="13.6" height="7.4" transform="translate(1110.8,303.9) rotate(56)"/><rect x="0" y="-3.7" width="13.6" height="7.4" transform="translate(1110.8,303.9) rotate(124)"/><rect x="0" y="-3.7" width="13.6" height="7.4" transform="translate(1110.8,303.9) rotate(196)"/></g><g fill="#f00"><rect x="0" y="-3.7" width="13.6" height="7.4" transform="translate(1024.2,303.9) rotate(-90)"/><rect x="0" y="-3.7" width="13.6" height="7.4" transform="translate(1024.2,303.9) rotate(-16)"/><rect x="0" y="-3.7" width="13.6" height="7.4" transform="translate(1024.2,303.9) rotate(56)"/><rect x="0" y="-3.7" width="13.6" height="7.4" transform="translate(1024.2,303.9) rotate(124)"/><rect x="0" y="-3.7" width="13.6" height="7.4" transform="translate(1024.2,303.9) rotate(196)"/></g><g fill="#f00"><rect x="0" y="-3.7" width="13.6" height="7.4" transform="translate(948.7,303.7) rotate(-90)"/><rect x="0" y="-3.7" width="13.6" height="7.4" transform="translate(948.7,303.7) rotate(-16)"/><rect x="0" y="-3.7" width="13.6" height="7.4" transform="translate(948.7,303.7) rotate(56)"/><rect x="0" y="-3.7" width="13.6" height="7.4" transform="translate(948.7,303.7) rotate(124)"/><rect x="0" y="-3.7" width="13.6" height="7.4" transform="translate(948.7,303.7) rotate(196)"/></g><g fill="#f00"><rect x="0" y="-3.7" width="13.6" height="7.4" transform="translate(1153.0,200.0) rotate(-90)"/><rect x="0" y="-3.7" width="13.6" height="7.4" transform="translate(1153.0,200.0) rotate(-16)"/><rect x="0" y="-3.7" width="13.6" height="7.4" transform="translate(1153.0,200.0) rotate(56)"/><rect x="0" y="-3.7" width="13.6" height="7.4" transform="translate(1153.0,200.0) rotate(124)"/><rect x="0" y="-3.7" width="13.6" height="7.4" transform="translate(1153.0,200.0) rotate(196)"/></g><g fill="#f00"><rect x="0" y="-3.7" width="13.6" height="7.4" transform="translate(1152.8,401.0) rotate(-90)"/><rect x="0" y="-3.7" width="13.6" height="7.4" transform="translate(1152.8,401.0) rotate(-16)"/><rect x="0" y="-3.7" width="13.6" height="7.4" transform="translate(1152.8,401.0) rotate(56)"/><rect x="0" y="-3.7" width="13.6" height="7.4" transform="translate(1152.8,401.0) rotate(124)"/><rect x="0" y="-3.7" width="13.6" height="7.4" transform="translate(1152.8,401.0) rotate(196)"/></g><g fill="#f00"><rect x="0" y="-3.7" width="13.6" height="7.4" transform="translate(1100.1,505.1) rotate(-90)"/><rect x="0" y="-3.7" width="13.6" height="7.4" transform="translate(1100.1,505.1) rotate(-16)"/><rect x="0" y="-3.7" width="13.6" height="7.4" transform="translate(1100.1,505.1) rotate(56)"/><rect x="0" y="-3.7" width="13.6" height="7.4" transform="translate(1100.1,505.1) rotate(124)"/><rect x="0" y="-3.7" width="13.6" height="7.4" transform="translate(1100.1,505.1) rotate(196)"/></g><g fill="#f00"><rect x="0" y="-3.7" width="13.6" height="7.4" transform="translate(1163.8,566.7) rotate(-90)"/><rect x="0" y="-3.7" width="13.6" height="7.4" transform="translate(1163.8,566.7) rotate(-16)"/><rect x="0" y="-3.7" width="13.6" height="7.4" transform="translate(1163.8,566.7) rotate(56)"/><rect x="0" y="-3.7" width="13.6" height="7.4" transform="translate(1163.8,566.7) rotate(124)"/><rect x="0" y="-3.7" width="13.6" height="7.4" transform="translate(1163.8,566.7) rotate(196)"/></g><g fill="#f00"><rect x="0" y="-3.7" width="13.6" height="7.4" transform="translate(1259.2,526.7) rotate(-90)"/><rect x="0" y="-3.7" width="13.6" height="7.4" transform="translate(1259.2,526.7) rotate(-16)"/><rect x="0" y="-3.7" width="13.6" height="7.4" transform="translate(1259.2,526.7) rotate(56)"/><rect x="0" y="-3.7" width="13.6" height="7.4" transform="translate(1259.2,526.7) rotate(124)"/><rect x="0" y="-3.7" width="13.6" height="7.4" transform="translate(1259.2,526.7) rotate(196)"/></g><g fill="#f00"><rect x="0" y="-3.7" width="13.6" height="7.4" transform="translate(1336.5,490.5) rotate(-90)"/><rect x="0" y="-3.7" width="13.6" height="7.4" transform="translate(1336.5,490.5) rotate(-16)"/><rect x="0" y="-3.7" width="13.6" height="7.4" transform="translate(1336.5,490.5) rotate(56)"/><rect x="0" y="-3.7" width="13.6" height="7.4" transform="translate(1336.5,490.5) rotate(124)"/><rect x="0" y="-3.7" width="13.6" height="7.4" transform="translate(1336.5,490.5) rotate(196)"/></g><g fill="#f00"><rect x="0" y="-3.7" width="13.6" height="7.4" transform="translate(1120.0,765.1) rotate(-90)"/><rect x="0" y="-3.7" width="13.6" height="7.4" transform="translate(1120.0,765.1) rotate(-16)"/><rect x="0" y="-3.7" width="13.6" height="7.4" transform="translate(1120.0,765.1) rotate(56)"/><rect x="0" y="-3.7" width="13.6" height="7.4" transform="translate(1120.0,765.1) rotate(124)"/><rect x="0" y="-3.7" width="13.6" height="7.4" transform="translate(1120.0,765.1) rotate(196)"/></g><g fill="#f00"><rect x="0" y="-3.7" width="13.6" height="7.4" transform="translate(1137.6,674.4) rotate(-90)"/><rect x="0" y="-3.7" width="13.6" height="7.4" transform="translate(1137.6,674.4) rotate(-16)"/><rect x="0" y="-3.7" width="13.6" height="7.4" transform="translate(1137.6,674.4) rotate(56)"/><rect x="0" y="-3.7" width="13.6" height="7.4" transform="translate(1137.6,674.4) rotate(124)"/><rect x="0" y="-3.7" width="13.6" height="7.4" transform="translate(1137.6,674.4) rotate(196)"/></g><text x="1218.8" y="77.0" font-size="23.8" fill="#000" stroke="#000" stroke-width="0.8">-0.460</text><text x="1216.8" y="105.4" font-size="23.8" stroke-width="0.8"><tspan fill="#000" stroke="#000">(</tspan><tspan fill="#f00" stroke="#f00">-0.566</tspan><tspan fill="#f00" stroke="#f00">)</tspan></text><text x="1184.8" y="200.2" font-size="23.8" fill="#000" stroke="#000" stroke-width="0.8">+0.467</text><text x="1183.2" y="228.9" font-size="23.8" stroke-width="0.8"><tspan fill="#000" stroke="#000">(+</tspan><tspan fill="#f00" stroke="#f00">0.468</tspan><tspan fill="#000" stroke="#000">)</tspan></text><text x="977.5" y="238.1" font-size="23.8" fill="#000" stroke="#000" stroke-width="0.8">+0.428</text><text x="975.9" y="267.8" font-size="23.8" stroke-width="0.8"><tspan fill="#000" stroke="#000">(</tspan><tspan fill="#f00" stroke="#f00">+0.452</tspan><tspan fill="#f00" stroke="#f00">)</tspan></text><text x="829.1" y="271.7" font-size="23.8" fill="#000" stroke="#000" stroke-width="0.8">-0.457</text><text x="827.6" y="301.5" font-size="23.8" stroke-width="0.8"><tspan fill="#000" stroke="#000">(</tspan><tspan fill="#f00" stroke="#f00">-0.570</tspan><tspan fill="#f00" stroke="#f00">)</tspan></text><text x="1150.8" y="296.6" font-size="23.8" fill="#000" stroke="#000" stroke-width="0.8">-0.318</text><text x="1148.9" y="326.1" font-size="23.8" stroke-width="0.8"><tspan fill="#000" stroke="#000">(</tspan><tspan fill="#f00" stroke="#f00">-0.358</tspan><tspan fill="#f00" stroke="#f00">)</tspan></text><text x="1018.6" y="372.2" font-size="23.8" fill="#000" stroke="#000" stroke-width="0.8">+0.4185</text><text x="1024.1" y="401.7" font-size="23.8" stroke-width="0.8"><tspan fill="#000" stroke="#000">(</tspan><tspan fill="#f00" stroke="#f00">+0.213</tspan><tspan fill="#f00" stroke="#f00">)</tspan></text><text x="1142.9" y="482.3" font-size="23.8" fill="#000" stroke="#000" stroke-width="0.8">-0.009</text><text x="1141.4" y="511.1" font-size="23.8" stroke-width="0.8"><tspan fill="#000" stroke="#000">(</tspan><tspan fill="#f00" stroke="#f00">-0.035</tspan><tspan fill="#f00" stroke="#f00">)</tspan></text><text x="1376.5" y="489.5" font-size="23.8" fill="#000" stroke="#000" stroke-width="0.8">-0.463</text><text x="1375.3" y="519.3" font-size="23.8" stroke-width="0.8"><tspan fill="#000" stroke="#000">(</tspan><tspan fill="#f00" stroke="#f00">-0.551</tspan><tspan fill="#f00" stroke="#f00">)</tspan></text><text x="1286.3" y="563.0" font-size="23.8" fill="#000" stroke="#000" stroke-width="0.8">+0.405</text><text x="1277.4" y="592.8" font-size="23.8" stroke-width="0.8"><tspan fill="#000" stroke="#000">(</tspan><tspan fill="#f00" stroke="#f00">+0.475</tspan><tspan fill="#f00" stroke="#f00">)</tspan></text><text x="1184.7" y="609.1" font-size="23.8" fill="#000" stroke="#000" stroke-width="0.8">-0.127</text><text x="1182.8" y="638.9" font-size="23.8" stroke-width="0.8"><tspan fill="#000" stroke="#000">(</tspan><tspan fill="#f00" stroke="#f00">-0.151</tspan><tspan fill="#f00" stroke="#f00">)</tspan></text><text x="1012.3" y="663.3" font-size="23.8" fill="#000" stroke="#000" stroke-width="0.8">+0.438</text><text x="1009.6" y="692.8" font-size="23.8" stroke-width="0.8"><tspan fill="#000" stroke="#000">(</tspan><tspan fill="#f00" stroke="#f00">+0.424</tspan><tspan fill="#f00" stroke="#f00">)</tspan></text><text x="1158.6" y="760.2" font-size="23.8" fill="#000" stroke="#000" stroke-width="0.8">-0.468</text><text x="1156.4" y="789.7" font-size="23.8" stroke-width="0.8"><tspan fill="#000" stroke="#000">(</tspan><tspan fill="#f00" stroke="#f00">-0.552</tspan><tspan fill="#f00" stroke="#f00">)</tspan></text></g>
<rect x="746.3" y="14.2" width="746.5" height="814.8" fill="none" stroke="#000" stroke-width="2.9"/>
<text transform="translate(790.5,94.7) scale(0.99,1)" font-size="62.9">b</text><text transform="translate(828,92.7) scale(0.79,1)" font-size="61.4">)</text>
</svg>
</body></html>
